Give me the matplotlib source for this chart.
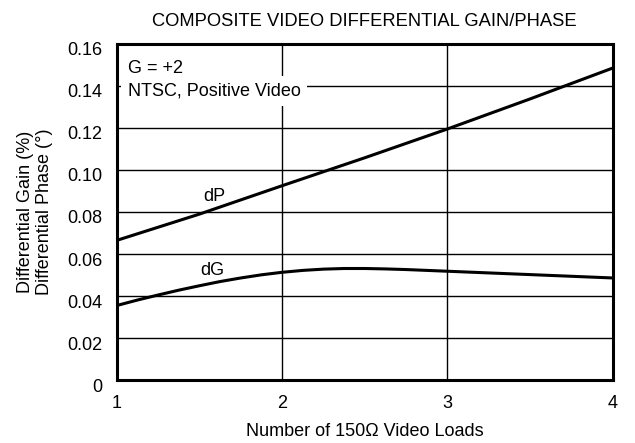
import numpy as np
import matplotlib.pyplot as plt
from matplotlib.transforms import ScaledTranslation

plt.rcParams['font.family'] = ['Liberation Sans', 'DejaVu Sans']

# differential phase (degrees) and gain (%) vs number of loads
loads_dp = [1.0, 1.5, 2.0, 2.5, 3.0, 3.5, 4.0]
dp = [0.0665, 0.079, 0.0925, 0.1058, 0.1195, 0.1338, 0.1485]

loads_dg = [1.0, 1.125, 1.25, 1.375, 1.5, 1.625, 1.75, 1.875, 2.0, 2.125, 2.25,
            2.375, 2.5, 2.625, 2.75, 3.0, 3.25, 3.5, 3.75, 4.0]
dg = [0.0355, 0.0381, 0.0405, 0.0428, 0.0449, 0.0469, 0.0486, 0.0501, 0.0513,
      0.0522, 0.0528, 0.0531, 0.0531, 0.0529, 0.0526, 0.0518, 0.0510, 0.0502,
      0.0494, 0.0486]

x_ticks = [1, 2, 3, 4]
y_ticks = [0, 0.02, 0.04, 0.06, 0.08, 0.10, 0.12, 0.14, 0.16]
y_labels = ['0', '0.02', '0.04', '0.06', '0.08', '0.10', '0.12', '0.14', '0.16']

fig = plt.figure(figsize=(6.35, 4.43), dpi=100)
ax = fig.add_axes([0.184, 0.142, 0.781, 0.759])

ax.plot(loads_dp, dp, color='black', lw=2.2)
ax.plot(loads_dg, dg, color='black', lw=2.2)

ax.set_xlim(1, 4)
ax.set_ylim(0, 0.16)
ax.set_xticks(x_ticks)
ax.set_yticks(y_ticks)
ax.set_yticklabels(y_labels)
ax.tick_params(length=0, labelsize=13, pad=10.5)
ax.grid(True, color='black', lw=1.0)
for s in ax.spines.values():
    s.set_linewidth(2.2)

# y tick labels sit a little below their grid lines
shift = ScaledTranslation(0, -5 / 100, fig.dpi_scale_trans)
for lbl in ax.get_yticklabels():
    lbl.set_transform(lbl.get_transform() + shift)

ax.text(1.59, 0.0875, 'dP', fontsize=13, ha='center', va='center')
ax.text(1.575, 0.0522, 'dG', fontsize=13, ha='center', va='center')
ax.text(1.065, 0.1485, 'G = +2', fontsize=13, va='center',
        bbox=dict(facecolor='white', edgecolor='none', pad=5))
ax.text(1.065, 0.1376, 'NTSC, Positive Video', fontsize=13, va='center',
        bbox=dict(facecolor='white', edgecolor='none', pad=5))

ax.set_title('COMPOSITE VIDEO DIFFERENTIAL GAIN/PHASE', fontsize=13.2, pad=13)
ax.set_xlabel('Number of 150Ω Video Loads', fontsize=13, labelpad=8)
ax.set_ylabel('Differential Gain (%)\nDifferential Phase (°)', fontsize=13, labelpad=10)

fig.savefig('out.png', dpi=100)
